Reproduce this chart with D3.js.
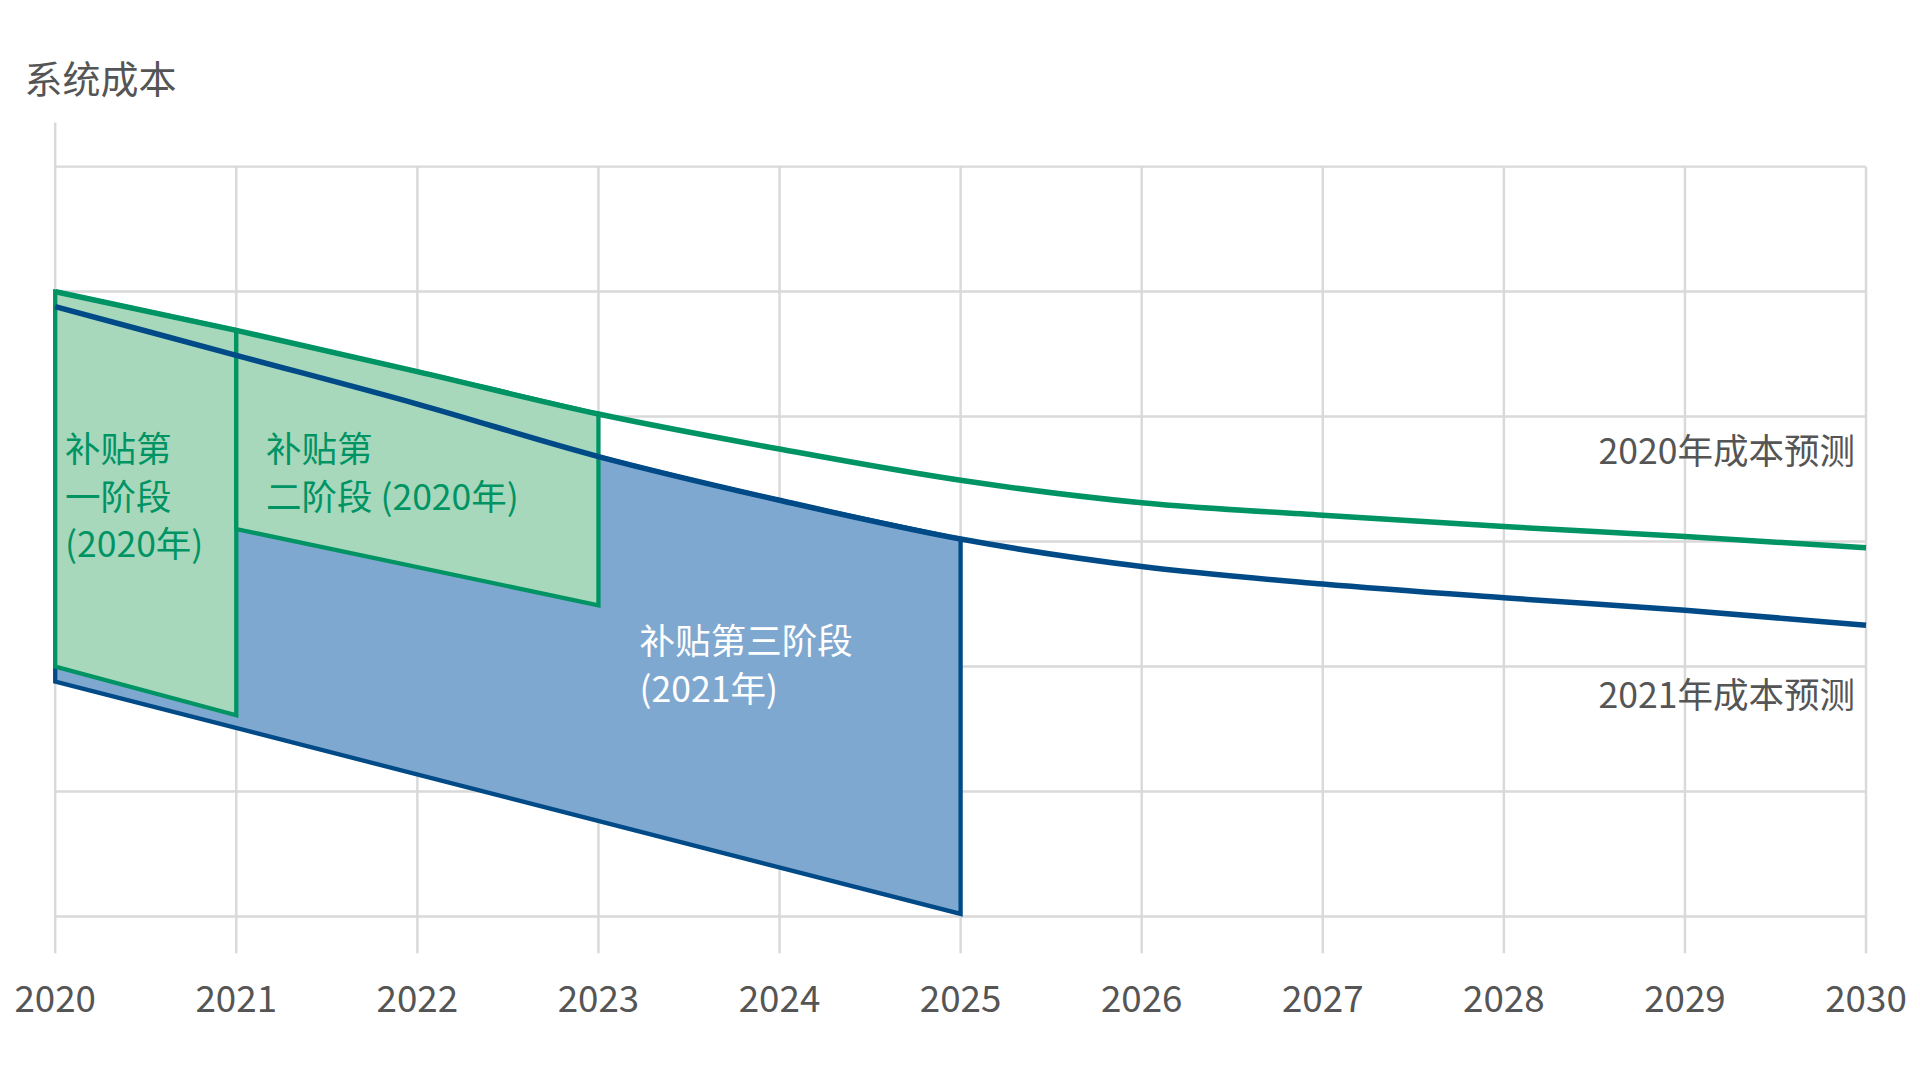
<!DOCTYPE html>
<html><head><meta charset="utf-8">
<script src="https://cdn.jsdelivr.net/npm/d3@7"></script>
<style>body{margin:0;background:#fff}svg{display:block}</style>
</head><body>
<svg id="chart" width="1920" height="1080" viewBox="0 0 1567 881.5"></svg>
<script>
// data
const years = [2020, 2021, 2022, 2023, 2024, 2025, 2026, 2027, 2028, 2029, 2030];
const cost2020 = [5.0, 4.69, 4.36, 4.02, 3.74, 3.49, 3.31, 3.21, 3.12, 3.04, 2.95];
const cost2021 = [4.88, 4.49, 4.10, 3.68, 3.33, 3.02, 2.80, 2.66, 2.55, 2.45, 2.33];
const phase1Low = [[2020, 2.0], [2021, 1.61]];
const phase2Low = [[2021, 3.10], [2023, 2.49]];
const phase3Low = [[2020, 1.88], [2025, 0.02]];
const yTicks = [0, 1, 2, 3, 4, 5, 6];

const svg = d3.select("#chart");
const x = d3.scaleLinear().domain([2020, 2030]).range([45, 1523]);
const y = d3.scaleLinear().domain([0, 6]).range([748, 136]);

const grid = "#d9d9d9";
const green = "#009464", greenFill = "#a8d8bc";
const blue = "#004b87", blueFill = "#7fa8d0";
const font = "'Noto Sans CJK SC', 'Noto Sans', sans-serif";

// grid
svg.selectAll(".hg").data(yTicks).enter().append("line")
  .attr("x1", x(2020)).attr("x2", x(2030))
  .attr("y1", d => y(d)).attr("y2", d => y(d))
  .attr("stroke", grid).attr("stroke-width", 2);
svg.selectAll(".vg").data(years).enter().append("line")
  .attr("x1", d => x(d)).attr("x2", d => x(d))
  .attr("y1", d => d === 2020 ? 100 : y(6)).attr("y2", 778)
  .attr("stroke", grid).attr("stroke-width", 2);

svg.selectAll(".tick").data(years).enter().append("text")
  .attr("x", d => x(d)).attr("y", 826)
  .attr("text-anchor", "middle")
  .attr("font-family", font).attr("font-size", 30).attr("fill", "#555")
  .text(d => d);

svg.append("text").attr("x", 20).attr("y", 76)
  .attr("font-family", font).attr("font-size", 31).attr("fill", "#555")
  .text("系统成本");

const pts20 = years.map((d, i) => [d, cost2020[i]]);
const pts21 = years.map((d, i) => [d, cost2021[i]]);
const curve = d3.line().x(d => x(d[0])).y(d => y(d[1])).curve(d3.curveMonotoneX);

// piece of a series between two years
function seg(pts, a, b) { return pts.filter(p => p[0] >= a && p[0] <= b); }

function region(top, low, fill, stroke) {
  const upper = curve(top);
  const lower = low.slice().reverse().map(p => `L${x(p[0])},${y(p[1])}`).join("");
  svg.append("path").attr("d", upper + lower + "Z")
    .attr("fill", fill).attr("stroke", stroke).attr("stroke-width", 3.5);
}

region(seg(pts21, 2020, 2025), phase3Low, blueFill, blue);
region(seg(pts20, 2020, 2021), phase1Low, greenFill, green);
region(seg(pts20, 2021, 2023), phase2Low, greenFill, green);

svg.append("path").attr("d", curve(pts20)).attr("fill", "none")
  .attr("stroke", green).attr("stroke-width", 4.5);
svg.append("path").attr("d", curve(pts21)).attr("fill", "none")
  .attr("stroke", blue).attr("stroke-width", 4.5);

// labels, one text per line
function label(lines, px, py, color, anchor) {
  lines.forEach((s, i) => svg.append("text")
    .attr("x", px).attr("y", py + i * 39)
    .attr("font-family", font).attr("font-size", 29)
    .attr("fill", color).attr("text-anchor", anchor || "start").text(s));
}
label(["补贴第", "一阶段", "(2020年)"], 53, 377, green);
label(["补贴第", "二阶段 (2020年)"], 217, 377, green);
label(["补贴第三阶段", "(2021年)"], 522, 534, "#fff");
label(["2020年成本预测"], 1514, 379, "#555", "end");
label(["2021年成本预测"], 1514, 578, "#555", "end");
</script>
</body></html>
